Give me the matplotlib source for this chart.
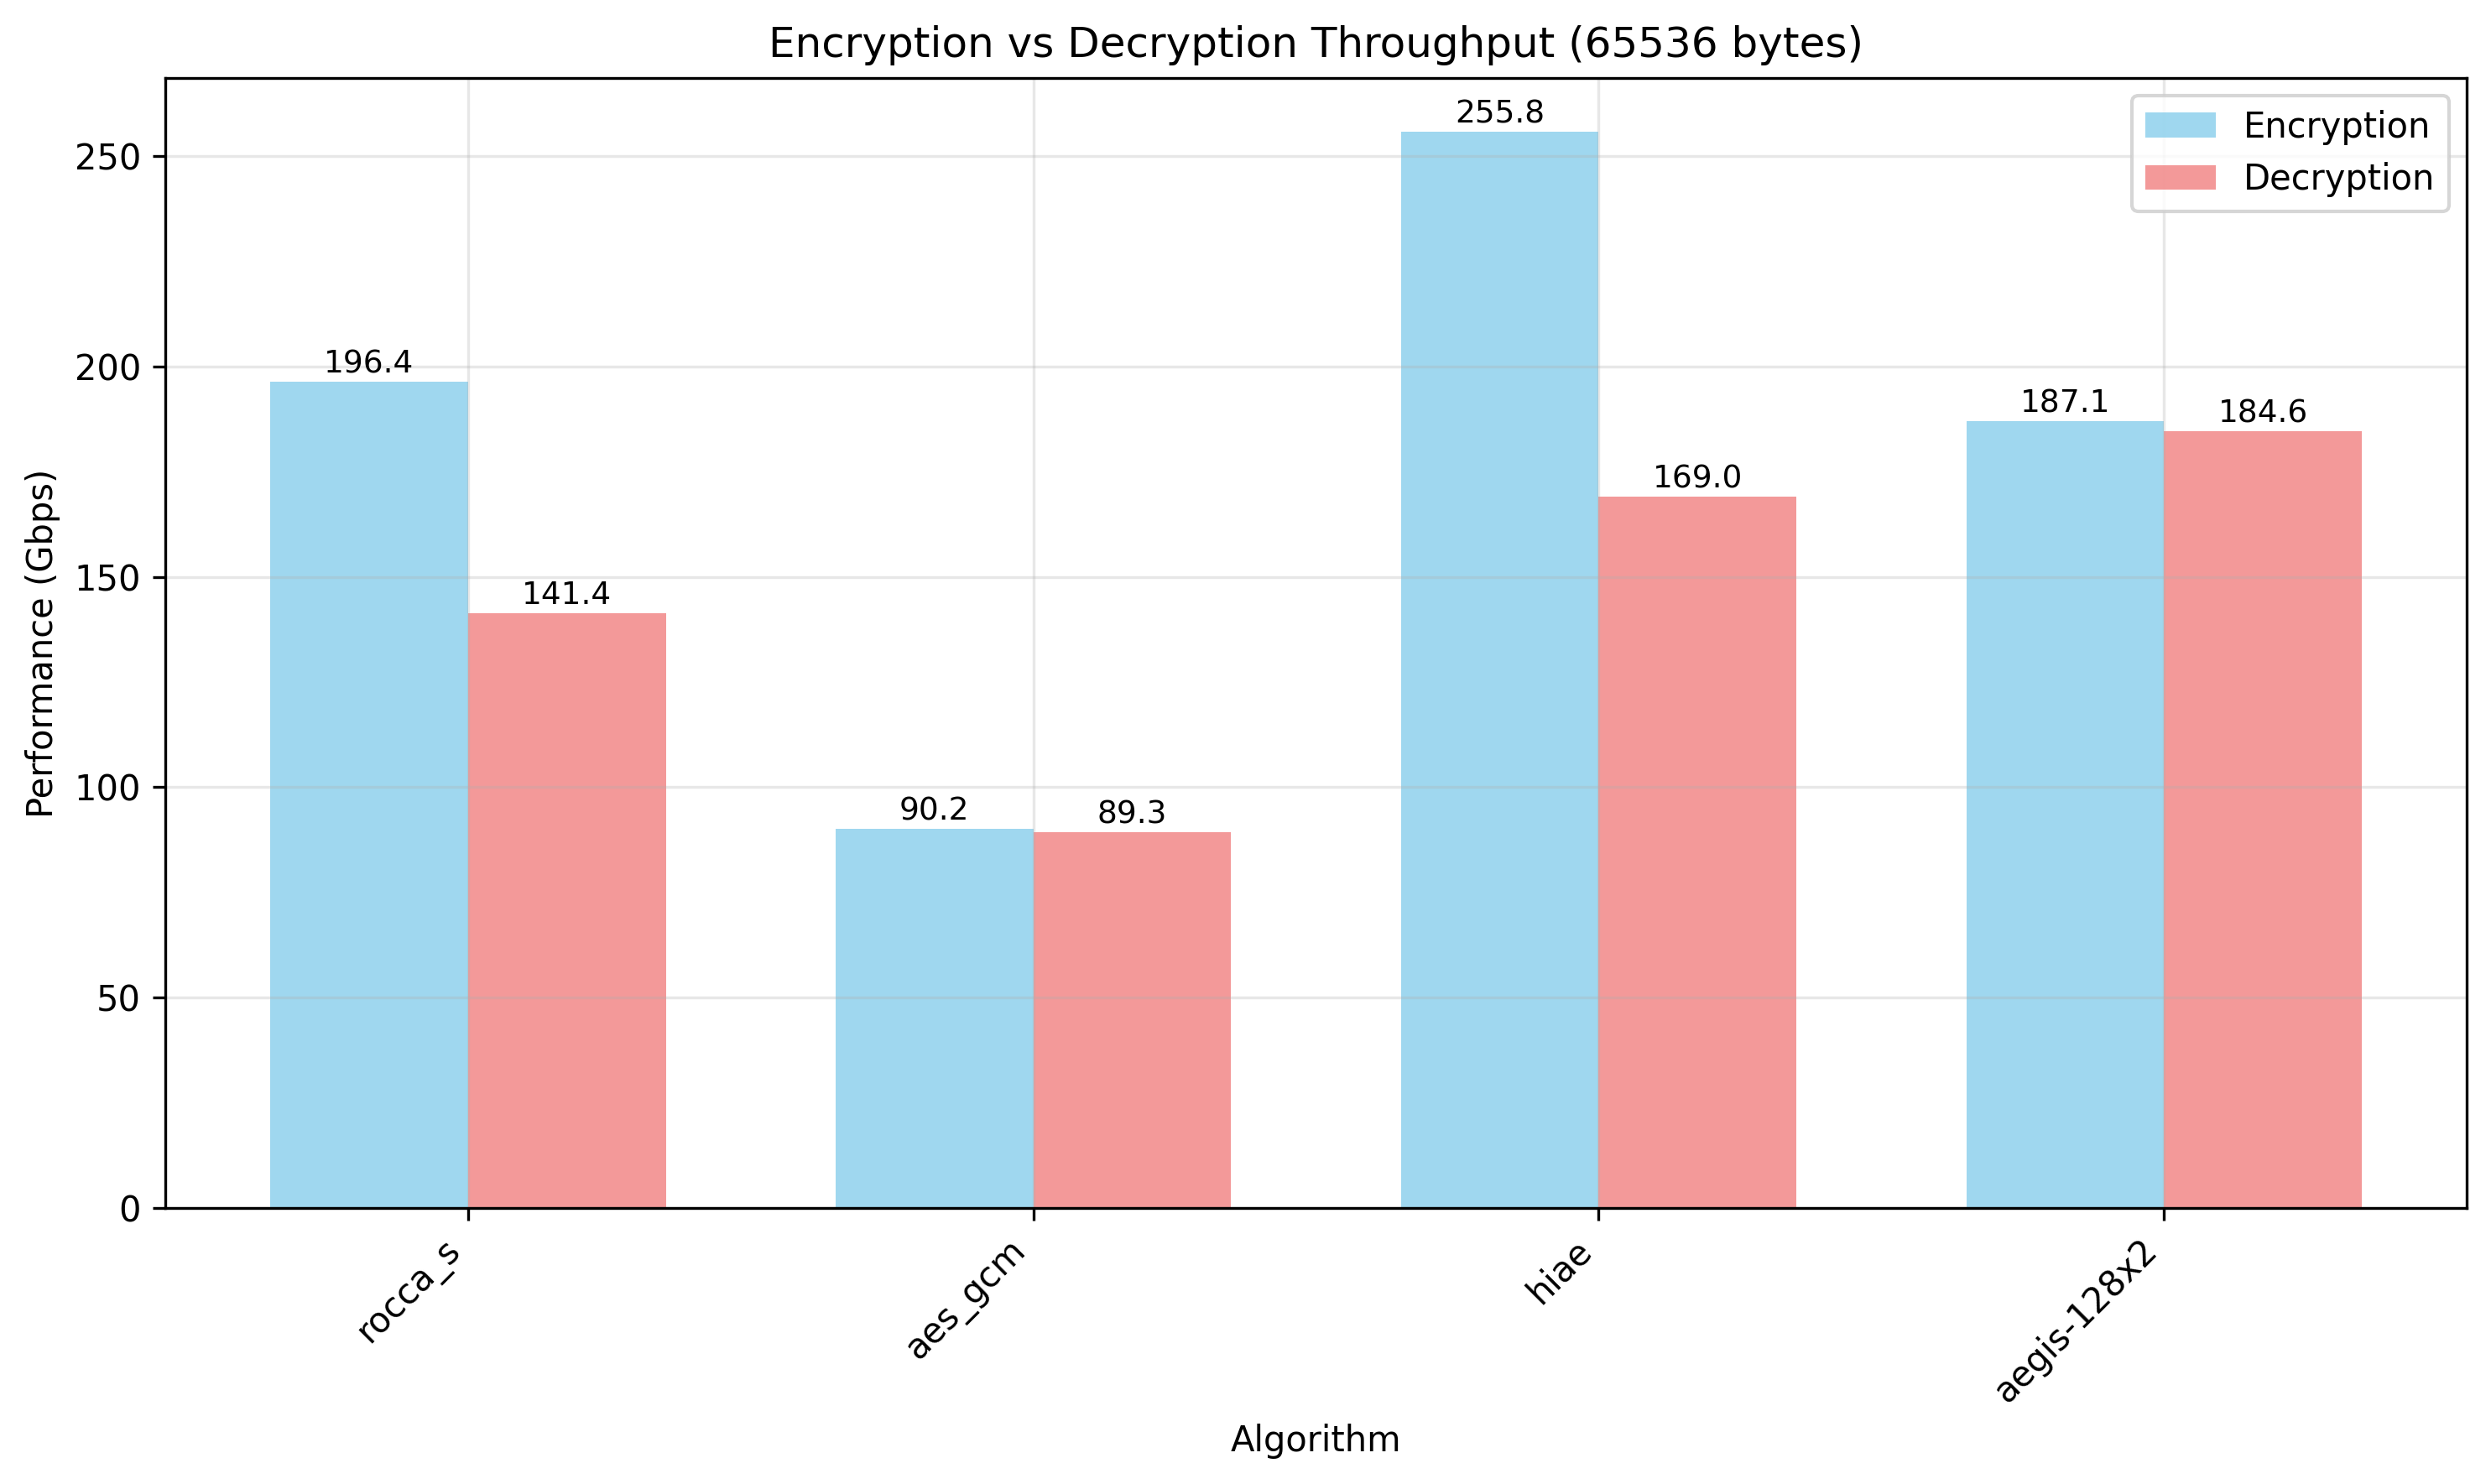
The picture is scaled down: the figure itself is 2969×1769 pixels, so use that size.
import numpy as np
import matplotlib
matplotlib.use("Agg")
import matplotlib.pyplot as plt

algorithms = ["rocca_s", "aes_gcm", "hiae", "aegis-128x2"]
encryption = [196.4, 90.2, 255.8, 187.1]
decryption = [141.4, 89.3, 169.0, 184.6]

x = np.arange(len(algorithms))
width = 0.35

fig, ax = plt.subplots(figsize=(2969 / 300, 1769 / 300), dpi=300)
bars1 = ax.bar(x - width / 2, encryption, width, label="Encryption", color="skyblue", alpha=0.8)
bars2 = ax.bar(x + width / 2, decryption, width, label="Decryption", color="lightcoral", alpha=0.8)

# value labels on top of the bars
for bars in (bars1, bars2):
    for b in bars:
        h = b.get_height()
        ax.text(b.get_x() + b.get_width() / 2, h + 0.5, f"{h:.1f}",
                ha="center", va="bottom", fontsize=9)

ax.set_xlabel("Algorithm")
ax.set_ylabel("Performance (Gbps)")
ax.set_title("Encryption vs Decryption Throughput (65536 bytes)")
ax.set_xticks(x)
ax.set_xticklabels(algorithms, rotation=45, ha="right")
ax.legend()
ax.grid(True, alpha=0.3)

fig.subplots_adjust(left=0.0664, right=0.9902, top=0.9474, bottom=0.186)
fig.savefig("out.png", dpi=300)
